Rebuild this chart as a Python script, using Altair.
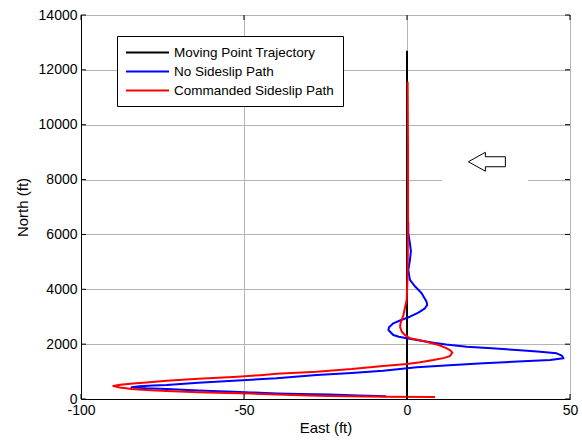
import altair as alt
import pandas as pd

series_names = ["Moving Point Trajectory", "No Sideslip Path", "Commanded Sideslip Path"]
series_colors = ["#000000", "#0000ff", "#ff0000"]

# Moving point trajectory (East ft, North ft)
black_east = [0, 0]
black_north = [0, 12700]

# No sideslip path
blue_east = [-6.4, -15, -24, -33, -40, -48, -53.3, -64, -73.7, -80, -84.5, -82, -78, -73.7,
             -64, -53.3, -40, -27.7, -17, -7.3, 3, 13, 23.4, 34, 43.9, 48, 47.5, 45.9, 40,
             33.6, 26, 18.3, 12, 8.1, 3.5, -0.1, -2.5, -4.2, -5.7, -5.5, -4.2, -1.8, 0.9,
             3.5, 5.5, 6.2, 6, 4.5, 2.5, 0.9, 0.4, 0.9, 1.2, 0.9, 0.4, 0.4]
blue_north = [100, 125, 160, 185, 205, 240, 267, 310, 365, 395, 430, 465, 490, 510,
              590, 667, 753, 875, 950, 1032, 1155, 1230, 1300, 1365, 1422, 1483, 1580, 1666, 1730,
              1787, 1850, 1907, 1990, 2053, 2140, 2213, 2270, 2333, 2515, 2620, 2760, 2880, 3000,
              3150, 3307, 3430, 3547, 3853, 4100, 4339, 4703, 5068, 5400, 5676, 6041, 6464]

# Commanded sideslip path
red_east = [8.6, -7, -23.6, -33, -40, -48, -55, -64, -73.7, -80, -84.5, -88, -90.1, -88,
            -84, -79, -73.7, -64, -53.3, -45, -40, -27.7, -17, -7.3, 0, 4, 8.1, 11.5, 13.2,
            13.9, 13.3, 12.2, 10, 7.1, 4, 0.9, -0.6, -1.6, -2.1, -2.0, -1.1, -0.1, 0.2, 0.3,
            0.3, 0.2]
red_north = [70, 85, 110, 140, 160, 200, 215, 250, 292, 330, 365, 420, 474, 520,
             565, 610, 667, 740, 805, 870, 920, 995, 1090, 1203, 1276, 1340, 1422, 1500, 1568,
             1690, 1770, 1848, 1960, 2053, 2140, 2213, 2330, 2454, 2620, 2760, 3063, 3610, 4500,
             6500, 9000, 11570]

x_ticks = [-100, -50, 0, 50]
y_ticks = [0, 2000, 4000, 6000, 8000, 10000, 12000, 14000]

# annotation arrow (data coords) and its white backing box
arrow_east = [24.5]
arrow_north = [8650]
box_east = [10.7, 37.1]
box_north = [7750, 9500]


def make_df(east, north, name):
    return pd.DataFrame({"east": east, "north": north, "series": name,
                         "step": list(range(len(east)))})


df_black = make_df(black_east, black_north, series_names[0])
df_blue = make_df(blue_east, blue_north, series_names[1])
df_red = make_df(red_east, red_north, series_names[2])

FONT = "Liberation Sans"
W, H = 489, 384

xscale = alt.Scale(domain=[-100, 50], nice=False, zero=False)
yscale = alt.Scale(domain=[0, 14000], nice=False, zero=False)

common_axis = dict(grid=True, gridColor="#b4b4b4", gridWidth=1, domainColor="black",
                   domainWidth=1, ticks=False, labelFontSize=14, labelColor="black",
                   labelPadding=4, labelFont=FONT, labelFlush=False, labelOverlap=False,
                   labelExpr="'' + datum.value", titleFont=FONT, titleFontSize=15,
                   titleFontWeight="normal", titleColor="black")
xaxis = alt.Axis(values=x_ticks, title="East (ft)", titlePadding=3, **common_axis)
yaxis = alt.Axis(values=y_ticks, title="North (ft)", titlePadding=8, **common_axis)

X = alt.X("east:Q", scale=xscale, axis=xaxis)
Y = alt.Y("north:Q", scale=yscale, axis=yaxis)

color = alt.Color(
    "series:N",
    scale=alt.Scale(domain=series_names, range=series_colors),
    legend=alt.Legend(orient="none", legendX=36, legendY=21, title=None,
                      symbolType="M-3.31,0H3.31", symbolSize=169, symbolStrokeWidth=2,
                      symbolOffset=14, labelFontSize=13.5, labelFont=FONT, labelColor="black",
                      labelLimit=400, strokeColor="black", fillColor="white", padding=9,
                      rowPadding=5, labelOffset=19),
)


def line_layer(df):
    return alt.Chart(df).mark_line(strokeWidth=2, strokeJoin="round", clip=True).encode(
        x=X, y=Y, color=color, order="step:Q")


box_df = pd.DataFrame({"east": [box_east[0]], "east2": [box_east[1]],
                       "north": [box_north[0]], "north2": [box_north[1]]})
box = alt.Chart(box_df).mark_rect(color="white").encode(
    x=X, x2="east2:Q", y=Y, y2="north2:Q")

arrow_path = "M-1,0 L-0.08,-0.51 L-0.08,-0.27 L1,-0.27 L1,0.27 L-0.08,0.27 L-0.08,0.51 Z"
arrow_df = pd.DataFrame({"east": arrow_east, "north": arrow_north})
arrow = alt.Chart(arrow_df).mark_point(shape=arrow_path, size=1369, filled=True,
                                        fill="white", stroke="black", strokeWidth=1,
                                        opacity=1).encode(x=X, y=Y)

xt = pd.DataFrame({"east": x_ticks})
yt = pd.DataFrame({"north": y_ticks})
tick_b = alt.Chart(xt).mark_rule(color="black").encode(x=X, y=alt.value(H), y2=alt.value(H - 5))
tick_t = alt.Chart(xt).mark_rule(color="black").encode(x=X, y=alt.value(0), y2=alt.value(5))
tick_l = alt.Chart(yt).mark_rule(color="black").encode(y=Y, x=alt.value(0), x2=alt.value(5))
tick_r = alt.Chart(yt).mark_rule(color="black").encode(y=Y, x=alt.value(W), x2=alt.value(W - 5))

chart = alt.layer(
    box, arrow,
    line_layer(df_black), line_layer(df_blue), line_layer(df_red),
    tick_b, tick_t, tick_l, tick_r,
).properties(
    width=W, height=H,
    padding={"left": 81, "top": 15, "right": 12, "bottom": 45},
    autosize=alt.AutoSizeParams(type="none"),
    background="white",
).configure_view(stroke="black", strokeWidth=1)

chart.save("out.html", embed_options={"renderer": "svg", "actions": False})
